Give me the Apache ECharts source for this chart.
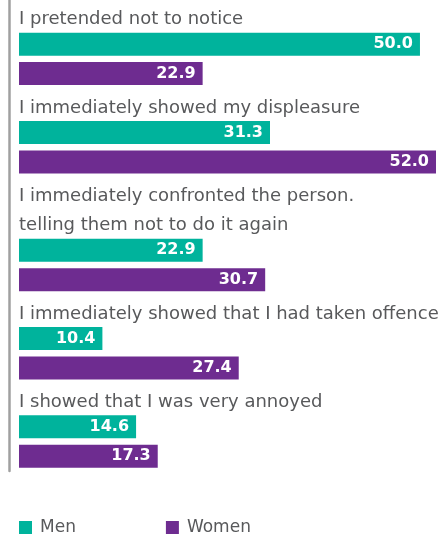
<!DOCTYPE html>
<html>
<head>
<meta charset="utf-8">
<script src="https://cdn.jsdelivr.net/npm/echarts@6/dist/echarts.min.js"></script>
<style>
  html, body { margin: 0; padding: 0; background: #fff; }
  #chart { width: 448px; height: 540px; }
</style>
</head>
<body>
<div id="chart"></div>
<script>
var categories = [
  'I pretended not to notice',
  'I immediately showed my displeasure',
  'I immediately confronted the person.\ntelling them not to do it again',
  'I immediately showed that I had taken offence',
  'I showed that I was very annoyed'
];
var men = [50.0, 31.3, 22.9, 10.4, 14.6];
var women = [22.9, 52.0, 30.7, 27.4, 17.3];
var seriesNames = ['Men', 'Women'];

var colorMen = '#00B39C';
var colorWomen = '#6E2C90';
var textColor = '#58595b';

// each group = label line(s) + one row for men + one row for women
var rowIds = [];
var rowText = {};
var menRows = [];
var womenRows = [];
categories.forEach(function (cat, i) {
  cat.split('\n').forEach(function (line, j) {
    var id = 'l' + i + '_' + j;
    rowIds.push(id);
    rowText[id] = line;
    menRows.push('-');
    womenRows.push('-');
  });
  rowIds.push('m' + i);
  menRows.push(men[i]);
  womenRows.push('-');
  rowIds.push('w' + i);
  menRows.push('-');
  womenRows.push(women[i]);
});

var chart = echarts.init(document.getElementById('chart'));

var valueLabel = {
  show: true,
  position: 'insideRight',
  distance: 7,
  color: '#fff',
  fontFamily: 'DejaVu Sans',
  fontWeight: 'bold',
  fontSize: 16,
  formatter: function (p) {
    return p.value.toFixed(1);
  }
};

var option = {
  animation: false,
  grid: {
    left: 19,
    right: 12,
    top: -3,
    height: 474
  },
  legend: {
    data: seriesNames,
    left: 14,
    top: 514,
    icon: 'rect',
    itemWidth: 13,
    itemHeight: 13,
    itemGap: 90,
    textStyle: {
      color: textColor,
      fontFamily: 'DejaVu Sans',
      fontSize: 17,
      padding: [0, 0, 0, 3]
    }
  },
  xAxis: {
    type: 'value',
    min: 0,
    max: 52,
    show: false
  },
  yAxis: {
    type: 'category',
    inverse: true,
    data: rowIds,
    offset: 10,
    axisLine: {
      show: true,
      onZero: false,
      lineStyle: { color: '#a0a0a0', width: 2.5 }
    },
    axisTick: { show: false },
    splitLine: { show: false },
    axisLabel: {
      inside: true,
      interval: 0,
      margin: 10,
      color: textColor,
      fontFamily: 'DejaVu Sans',
      fontSize: 18,
      verticalAlign: 'top',
      lineHeight: 10,
      formatter: function (id) {
        return rowText[id] || '';
      }
    }
  },
  series: [
    {
      name: 'Men',
      type: 'bar',
      data: menRows,
      barWidth: 23,
      barGap: '-100%',
      itemStyle: { color: colorMen },
      label: valueLabel
    },
    {
      name: 'Women',
      type: 'bar',
      data: womenRows,
      barWidth: 23,
      barGap: '-100%',
      itemStyle: { color: colorWomen },
      label: valueLabel
    }
  ]
};

chart.setOption(option);
</script>
</body>
</html>
